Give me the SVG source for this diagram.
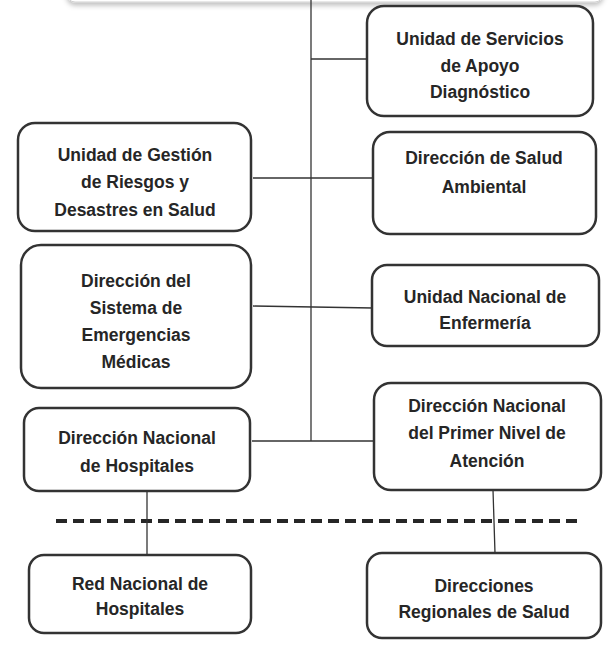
<svg xmlns="http://www.w3.org/2000/svg" width="613" height="645" viewBox="0 0 613 645">
  <defs>
    <filter id="shadow" x="-10%" y="-50%" width="120%" height="200%">
      <feDropShadow dx="0" dy="3" stdDeviation="2.5" flood-color="#000" flood-opacity="0.25"/>
    </filter>
  </defs>
  <style>
    .box { fill: #ffffff; stroke: #333333; stroke-width: 2.5; }
    .lbl { font-family: "Liberation Sans", Arial, sans-serif; font-weight: bold; font-size: 17.5px; fill: #262626; text-anchor: middle; }
    .conn { stroke: #333333; stroke-width: 1.3; fill: none; }
    .dash { stroke: #262626; stroke-width: 4; stroke-dasharray: 11 6; fill: none; }
  </style>
  <rect width="613" height="645" fill="#ffffff"/>

  <g id="top-box">
    <rect x="67" y="-30" width="536" height="32" rx="8" fill="#ffffff" stroke="#d0d0d0" stroke-width="1" filter="url(#shadow)"/>
  </g>

  <g id="connectors">
    <path class="dash" d="M56 521 H578"/>
    <path class="conn" d="M311 0 V441"/>
    <path class="conn" d="M311 59 H367"/>
    <path class="conn" d="M253 178 H373"/>
    <path class="conn" d="M253 306 L373 308"/>
    <path class="conn" d="M252 441 H374"/>
    <path class="conn" d="M147 491 V555"/>
    <path class="conn" d="M493 490 L495 553"/>
  </g>

  <g id="n-apoyo">
    <rect class="box" x="367" y="6" width="226" height="110" rx="17"/>
    <text class="lbl" x="480" y="45">Unidad de Servicios</text>
    <text class="lbl" x="480" y="72">de Apoyo</text>
    <text class="lbl" x="480" y="98">Diagnóstico</text>
  </g>

  <g id="n-gestion">
    <rect class="box" x="18" y="123" width="233" height="108" rx="17"/>
    <text class="lbl" x="135" y="161">Unidad de Gestión</text>
    <text class="lbl" x="135" y="188">de Riesgos y</text>
    <text class="lbl" x="135" y="216">Desastres en Salud</text>
  </g>

  <g id="n-ambiental">
    <rect class="box" x="373" y="132" width="223" height="102" rx="17"/>
    <text class="lbl" x="484" y="164">Dirección de Salud</text>
    <text class="lbl" x="484" y="193">Ambiental</text>
  </g>

  <g id="n-emergencias">
    <rect class="box" x="21" y="245" width="230" height="143" rx="20"/>
    <text class="lbl" x="136" y="287">Dirección del</text>
    <text class="lbl" x="136" y="314">Sistema de</text>
    <text class="lbl" x="136" y="341">Emergencias</text>
    <text class="lbl" x="136" y="368">Médicas</text>
  </g>

  <g id="n-enfermeria">
    <rect class="box" x="372" y="265" width="227" height="81" rx="15"/>
    <text class="lbl" x="485" y="303">Unidad Nacional de</text>
    <text class="lbl" x="485" y="329">Enfermería</text>
  </g>

  <g id="n-hospitales">
    <rect class="box" x="24" y="408" width="226" height="83" rx="15"/>
    <text class="lbl" x="137" y="444">Dirección Nacional</text>
    <text class="lbl" x="137" y="472">de Hospitales</text>
  </g>

  <g id="n-primer-nivel">
    <rect class="box" x="374" y="383" width="227" height="107" rx="17"/>
    <text class="lbl" x="487" y="412">Dirección Nacional</text>
    <text class="lbl" x="487" y="439">del Primer Nivel de</text>
    <text class="lbl" x="487" y="467">Atención</text>
  </g>

  <g id="n-red">
    <rect class="box" x="29" y="555" width="222" height="78" rx="15"/>
    <text class="lbl" x="140" y="590">Red Nacional de</text>
    <text class="lbl" x="140" y="615">Hospitales</text>
  </g>

  <g id="n-direcciones">
    <rect class="box" x="367" y="553" width="234" height="85" rx="15"/>
    <text class="lbl" x="484" y="592">Direcciones</text>
    <text class="lbl" x="484" y="618">Regionales de Salud</text>
  </g>
</svg>
